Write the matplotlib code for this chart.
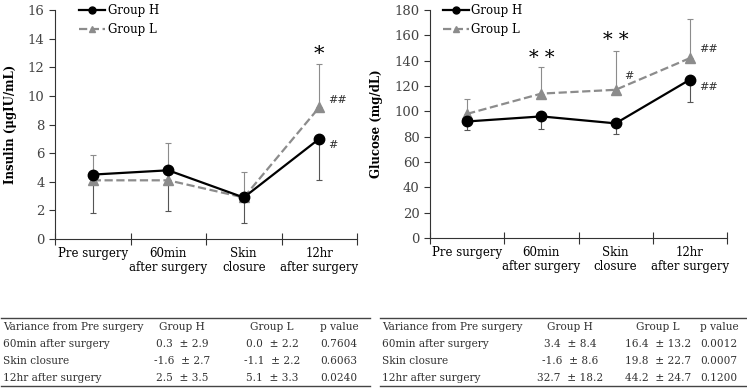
import matplotlib
matplotlib.use("Agg")
import matplotlib.pyplot as plt
import numpy as np
from matplotlib.lines import Line2D

plt.rcParams["font.family"] = ["DejaVu Serif"]

CATS = ["Pre surgery", "60min\nafter surgery", "Skin\nclosure", "12hr\nafter surgery"]

# insulin (µgIU/mL)
ins_h = [4.5, 4.8, 2.9, 7.0]
ins_h_err = [2.7, 2.85, 1.8, 2.9]     # drawn downward
ins_l = [4.1, 4.1, 2.9, 9.2]
ins_l_err = [1.8, 2.6, 1.75, 3.0]     # drawn upward

# glucose (mg/dL)
glu_h = [92, 96, 90.5, 125]
glu_h_err = [7, 10, 8.5, 18]
glu_l = [98, 114, 117, 142]
glu_l_err = [12, 21, 31, 31]

# annotations (category index, y, text, fontsize)
ins_marks = [(3, 12.9, "*", 15), (3.12, 9.7, "##", 8), (3.12, 6.6, "#", 8)]
glu_marks = [(1, 142, "* *", 14), (2, 156, "* *", 14), (2.12, 128, "#", 8),
             (3.12, 149, "##", 8), (3.12, 119, "##", 8)]

# tables
tab_header = ["Variance from Pre surgery", "Group H", "Group L", "p value"]
tab_rows = ["60min after surgery", "Skin closure", "12hr after surgery"]
ins_tab_h = ["0.3  \u00b1 2.9", "-1.6  \u00b1 2.7", "2.5  \u00b1 3.5"]
ins_tab_l = ["0.0  \u00b1 2.2", "-1.1  \u00b1 2.2", "5.1  \u00b1 3.3"]
ins_tab_p = ["0.7604", "0.6063", "0.0240"]
glu_tab_h = ["3.4  \u00b1 8.4", "-1.6  \u00b1 8.6", "32.7  \u00b1 18.2"]
glu_tab_l = ["16.4  \u00b1 13.2", "19.8  \u00b1 22.7", "44.2  \u00b1 24.7"]
glu_tab_p = ["0.0012", "0.0007", "0.1200"]

W, H = 747, 388
fig = plt.figure(figsize=(W / 100, H / 100), dpi=100)

GRAY = "#8c8c8c"


def panel(rect, h, herr, l, lerr, ymax, ystep, ylabel, marks, leg_x, lpad):
    ax = fig.add_axes(rect)
    x = np.arange(len(CATS))
    ax.errorbar(x, h, yerr=[herr, np.zeros(len(h))], fmt="none", ecolor="#555555",
                elinewidth=0.8, capsize=2, capthick=0.8, zorder=2)
    ax.errorbar(x, l, yerr=[np.zeros(len(l)), lerr], fmt="none", ecolor=GRAY,
                elinewidth=0.8, capsize=2, capthick=0.8, zorder=2)
    ax.plot(x, l, color=GRAY, ls="--", lw=1.6, marker="^", ms=7, label="Group L", zorder=3)
    ax.plot(x, h, color="black", lw=1.6, marker="o", ms=7.5, label="Group H", zorder=4)
    ax.set_xlim(-0.5, 3.5)
    ax.set_ylim(0, ymax)
    ax.set_yticks(np.arange(0, ymax + 1, ystep))
    ax.set_xticks(np.arange(-0.5, 4, 1))
    ax.set_xticklabels([])
    ax.tick_params(axis="x", which="major", direction="inout", length=8, width=0.8, color="#333333")
    ax.set_xticks(x, minor=True)
    ax.set_xticklabels(CATS, minor=True, fontsize=8.5, linespacing=1.1)
    ax.tick_params(axis="x", which="minor", length=0, pad=6)
    ax.tick_params(axis="y", direction="out", length=4, width=0.8, color="#333333",
                   labelsize=9.5, labelcolor="#444444")
    for s in ("top", "right"):
        ax.spines[s].set_visible(False)
    for s in ("left", "bottom"):
        ax.spines[s].set_color("#333333")
        ax.spines[s].set_linewidth(0.8)
    ax.set_ylabel(ylabel, fontsize=8.5, fontweight="bold", labelpad=lpad)
    for xi, yi, t, fs in marks:
        ax.text(xi, yi, t, ha="left" if t.startswith("#") else "center", va="center",
                fontsize=fs, color="black" if t.startswith("*") else "#333333")
    handles = [Line2D([], [], color="black", lw=1.6, marker="o", ms=5),
               Line2D([], [], color=GRAY, lw=1.6, ls="--", marker="^", ms=4)]
    ax.legend(handles, ["Group H", "Group L"], loc="upper left", bbox_to_anchor=(leg_x, 1.045),
              frameon=False, fontsize=8.5, handlelength=2.2, handletextpad=0.2,
              labelspacing=0.45, borderaxespad=0)
    return ax


panel([55 / W, 1 - 239 / H, 302 / W, 229 / H], ins_h, ins_h_err, ins_l, ins_l_err,
      16, 2, "Insulin (\u03bcgIU/mL)", ins_marks, 0.065, 8)
panel([430 / W, 1 - 238 / H, 297 / W, 228 / H], glu_h, glu_h_err, glu_l, glu_l_err,
      180, 20, "Glucose (mg/dL)", glu_marks, 0.028, 8)


def table(x0, x1, cols, vh, vl, vp):
    fy = lambda py: 1 - py / H
    for py in (318, 386):
        fig.add_artist(Line2D([x0 / W, x1 / W], [fy(py), fy(py)], color="#444444", lw=1.0))
    rows_y = [327, 344, 361, 378]
    kw = dict(fontsize=7.6, color="#333333", va="center")
    fig.text((x0 + 2) / W, fy(rows_y[0]), tab_header[0], ha="left", **kw)
    fig.text(cols[0] / W, fy(rows_y[0]), tab_header[1], ha="center", **kw)
    fig.text(cols[1] / W, fy(rows_y[0]), tab_header[2], ha="center", **kw)
    fig.text(cols[2] / W, fy(rows_y[0]), tab_header[3], ha="left", **kw)
    for i, name in enumerate(tab_rows):
        y = fy(rows_y[i + 1])
        fig.text((x0 + 2) / W, y, name, ha="left", **kw)
        fig.text(cols[0] / W, y, vh[i], ha="center", **kw)
        fig.text(cols[1] / W, y, vl[i], ha="center", **kw)
        fig.text(cols[2] / W, y, vp[i], ha="left", **kw)


table(1, 370, [182, 272, 320], ins_tab_h, ins_tab_l, ins_tab_p)
table(380, 746, [570, 658, 700], glu_tab_h, glu_tab_l, glu_tab_p)

fig.savefig("out.png", dpi=100)
